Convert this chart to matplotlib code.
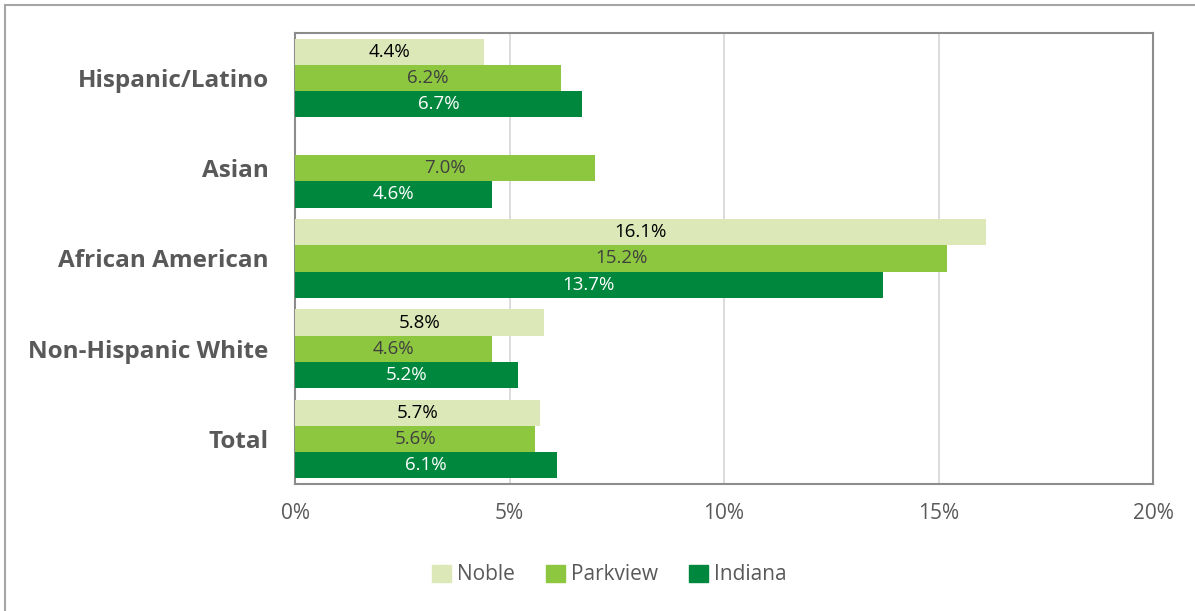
import numpy as np
import matplotlib.pyplot as plt
from matplotlib.lines import Line2D

plt.rcParams['font.family'] = ['Open Sans', 'DejaVu Sans']

# data (top to bottom)
categories = ["Hispanic/Latino", "Asian", "African American", "Non-Hispanic White", "Total"]
noble = [4.4, np.nan, 16.1, 5.8, 5.7]
parkview = [6.2, 7.0, 15.2, 4.6, 5.6]
indiana = [6.7, 4.6, 13.7, 5.2, 6.1]
series_names = ["Noble", "Parkview", "Indiana"]
colors = ["#DDE8B9", "#8DC63F", "#00873E"]
label_colors = ["black", "#404040", "white"]

fig = plt.figure(figsize=(11.95, 6.11), dpi=100)
ax = fig.add_axes([0.2469, 0.2079, 0.7180, 0.7381])

y = np.arange(len(categories))
h = 0.29
offsets = [-h, 0, h]
for vals, off, col, lc, name in zip([noble, parkview, indiana], offsets, colors, label_colors, series_names):
    for yi, v in zip(y, vals):
        if np.isnan(v):
            continue
        ax.barh(yi + off, v, height=h, color=col, zorder=3)
        ax.text(v / 2, yi + off, f"{v:.1f}%", ha="center", va="center",
                fontsize=13.5, color=lc, zorder=4)

ax.set_ylim(len(categories) - 0.5, -0.5)
ax.set_xlim(0, 20)
ax.set_xticks([0, 5, 10, 15, 20])
ax.set_xticklabels(["0%", "5%", "10%", "15%", "20%"], fontsize=15, color="#595959")
ax.set_yticks(y)
ax.set_yticklabels(categories, fontsize=17.5, fontweight="bold", color="#595959")
ax.tick_params(length=0, pad=14, axis="x")
ax.tick_params(length=0, pad=19, axis="y")
ax.grid(axis="x", color="#D9D9D9", linewidth=1.3, zorder=0)
for s in ax.spines.values():
    s.set_color("#8C8C8C")
    s.set_linewidth(1.5)

handles = [plt.Rectangle((0, 0), 1, 1, color=c) for c in colors]
fig.legend(handles, series_names, loc="center", bbox_to_anchor=(0.51, 0.059), ncol=3,
           frameon=False, fontsize=15, handlelength=0.9, handleheight=0.9,
           handletextpad=0.3, columnspacing=1.5, labelcolor="#595959")

# outer chart border (partly cropped)
fig.add_artist(Line2D([0.0042, 1.0], [0.9918, 0.9918], color="#A6A6A6", linewidth=1.5))
fig.add_artist(Line2D([0.0042, 0.0042], [0.0, 0.9918], color="#A6A6A6", linewidth=1.5))

fig.savefig("out.png", dpi=100)
